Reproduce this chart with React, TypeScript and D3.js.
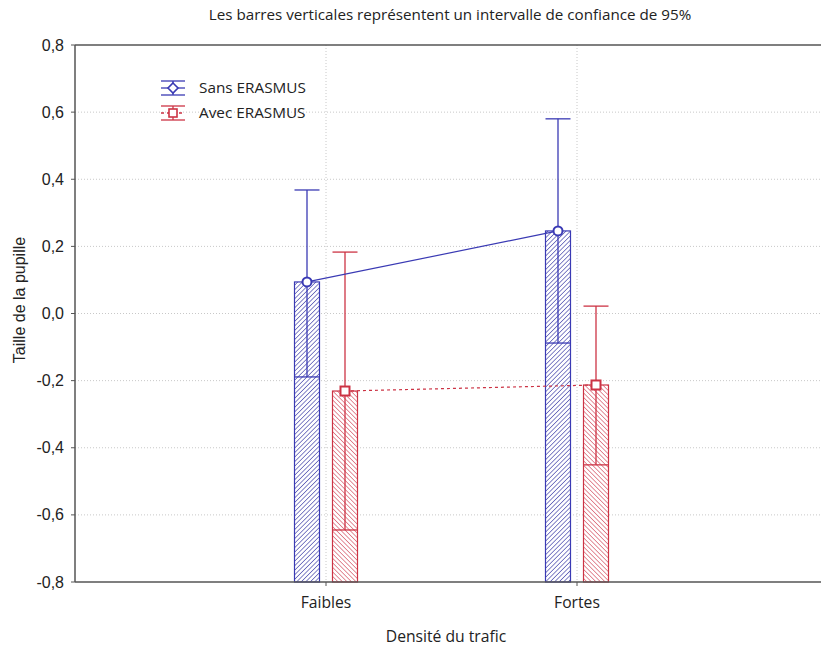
import React from "react";
import * as d3 from "d3";

const categories = ["Faibles", "Fortes"];
const seriesNames = ["Sans ERASMUS", "Avec ERASMUS"];
const sansMean = [0.094, 0.246];
const sansLower = [-0.189, -0.088];
const sansUpper = [0.368, 0.58];
const avecMean = [-0.231, -0.213];
const avecLower = [-0.645, -0.451];
const avecUpper = [0.183, 0.022];
const yTicks = [-0.8, -0.6, -0.4, -0.2, 0.0, 0.2, 0.4, 0.6, 0.8];

const W = 821;
const H = 650;
const left = 75;
const top = 45;
const bottom = 582;
const right = 828;

const BLUE = "#3a3ab4";
const RED = "#cc3344";

export default function App() {
  const y = d3.scaleLinear().domain([-0.8, 0.8]).range([bottom, top]);
  const x = d3.scalePoint<string>().domain(categories).range([left, right]).padding(1);
  const offset = 19;
  const bw = 25;
  const fmt = (v: number) => d3.format(".1f")(v).replace(".", ",").replace("−", "-");

  const series = [
    { name: seriesNames[0], mean: sansMean, lo: sansLower, hi: sansUpper, color: BLUE, dx: -offset, pat: "hatchBlue", dash: undefined as string | undefined, marker: "circle" },
    { name: seriesNames[1], mean: avecMean, lo: avecLower, hi: avecUpper, color: RED, dx: offset, pat: "hatchRed", dash: "3,3", marker: "square" },
  ];

  const line = d3.line<[number, number]>().x((d) => d[0]).y((d) => d[1]);

  return (
    <svg width={W} height={H} style={{ position: "absolute", left: 0, top: 0, background: "#fff" }}>
      <defs>
        <pattern id="hatchBlue" width="3.2" height="3.2" patternUnits="userSpaceOnUse" patternTransform="rotate(45)">
          <rect width="3.2" height="3.2" fill="#fff" />
          <line x1="0" y1="0" x2="0" y2="3.2" stroke="#5050b0" strokeWidth="1.4" />
        </pattern>
        <pattern id="hatchRed" width="3.2" height="3.2" patternUnits="userSpaceOnUse" patternTransform="rotate(-45)">
          <rect width="3.2" height="3.2" fill="#fff" />
          <line x1="0" y1="0" x2="0" y2="3.2" stroke="#d86070" strokeWidth="1.4" />
        </pattern>
      </defs>

      <text x={450} y={20} textAnchor="middle" fontFamily="'Open Sans', sans-serif" fontSize={15.2} fill="#222">
        Les barres verticales représentent un intervalle de confiance de 95%
      </text>

      {/* grid */}
      {yTicks.slice(1, -1).map((t) => (
        <line key={"g" + t} x1={left} x2={W} y1={y(t)} y2={y(t)} stroke="#c8c8c8" strokeDasharray="1,2" />
      ))}
      {categories.map((c) => (
        <line key={"v" + c} x1={x(c)!} x2={x(c)!} y1={top} y2={bottom} stroke="#c8c8c8" strokeDasharray="1,2" />
      ))}

      {/* bars */}
      {series.map((s) =>
        categories.map((c, i) => {
          const cx = x(c)! + s.dx;
          return (
            <rect key={s.name + c} x={cx - bw / 2} y={y(s.mean[i])} width={bw} height={y(-0.8) - y(s.mean[i])}
              fill={`url(#${s.pat})`} stroke={s.color} strokeWidth={1.2} />
          );
        })
      )}

      {/* error bars */}
      {series.map((s) =>
        categories.map((c, i) => {
          const cx = x(c)! + s.dx;
          return (
            <g key={"e" + s.name + c} stroke={s.color} strokeWidth={1.3}>
              <line x1={cx} x2={cx} y1={y(s.hi[i])} y2={y(s.lo[i])} />
              <line x1={cx - bw / 2} x2={cx + bw / 2} y1={y(s.hi[i])} y2={y(s.hi[i])} />
              <line x1={cx - bw / 2} x2={cx + bw / 2} y1={y(s.lo[i])} y2={y(s.lo[i])} />
            </g>
          );
        })
      )}

      {/* mean lines */}
      {series.map((s) => (
        <path key={"l" + s.name}
          d={line(categories.map((c, i) => [x(c)! + s.dx, y(s.mean[i])] as [number, number]))!}
          fill="none" stroke={s.color} strokeWidth={1.2} strokeDasharray={s.dash} />
      ))}

      {/* markers */}
      {series.map((s) =>
        categories.map((c, i) => {
          const cx = x(c)! + s.dx;
          const cy = y(s.mean[i]);
          return s.marker === "circle" ? (
            <circle key={"m" + s.name + c} cx={cx} cy={cy} r={4.5} fill="#fff" stroke={s.color} strokeWidth={2} />
          ) : (
            <rect key={"m" + s.name + c} x={cx - 4.5} y={cy - 4.5} width={9} height={9} fill="#fff" stroke={s.color} strokeWidth={2} />
          );
        })
      )}

      {/* axes frame */}
      <line x1={left} x2={W} y1={top} y2={top} stroke="#555" strokeWidth={1.5} />
      <line x1={left} x2={W} y1={bottom} y2={bottom} stroke="#555" strokeWidth={1.5} />
      <line x1={left} x2={left} y1={top} y2={bottom} stroke="#555" strokeWidth={1.5} />

      {yTicks.map((t) => (
        <g key={"t" + t}>
          <line x1={left - 4} x2={left} y1={y(t)} y2={y(t)} stroke="#555" />
          <text x={64} y={y(t)} dy="0.35em" textAnchor="end" fontFamily="'Liberation Sans', Arial, sans-serif" fontSize={16} fill="#222">
            {fmt(t)}
          </text>
        </g>
      ))}
      {categories.map((c) => (
        <g key={"xt" + c}>
          <line x1={x(c)!} x2={x(c)!} y1={bottom} y2={bottom + 4} stroke="#555" />
          <text x={x(c)!} y={608} textAnchor="middle" fontFamily="'Open Sans', sans-serif" fontSize={15.7} fill="#222">
            {c}
          </text>
        </g>
      ))}

      <text x={446} y={642} textAnchor="middle" fontFamily="'Open Sans', sans-serif" fontSize={15.7} fill="#222">
        Densité du trafic
      </text>
      <text transform={`translate(25,300) rotate(-90)`} textAnchor="middle"
        fontFamily="'Liberation Sans', Arial, sans-serif" fontSize={16} fill="#222">
        Taille de la pupille
      </text>

      {/* legend */}
      {series.map((s, i) => {
        const cy = 88 + i * 25;
        const lx = 173;
        return (
          <g key={"lg" + s.name}>
            <g stroke={s.color} strokeWidth={1.3}>
              <line x1={lx - 12} x2={lx + 12} y1={cy - 7} y2={cy - 7} />
              <line x1={lx - 12} x2={lx + 12} y1={cy + 7} y2={cy + 7} />
              <line x1={lx} x2={lx} y1={cy - 7} y2={cy + 7} />
              <line x1={lx - 12} x2={lx + 12} y1={cy} y2={cy} strokeDasharray={s.dash} />
            </g>
            {s.marker === "circle" ? (
              <path d={`M${lx},${cy - 5}L${lx + 5},${cy}L${lx},${cy + 5}L${lx - 5},${cy}Z`} fill="#fff" stroke={s.color} strokeWidth={1.6} />
            ) : (
              <rect x={lx - 4} y={cy - 4} width={8} height={8} fill="#fff" stroke={s.color} strokeWidth={1.6} />
            )}
            <text x={199} y={cy} dy="0.35em" fontFamily="'Open Sans', sans-serif" fontSize={15.3} fill="#222">
              {s.name}
            </text>
          </g>
        );
      })}
    </svg>
  );
}
